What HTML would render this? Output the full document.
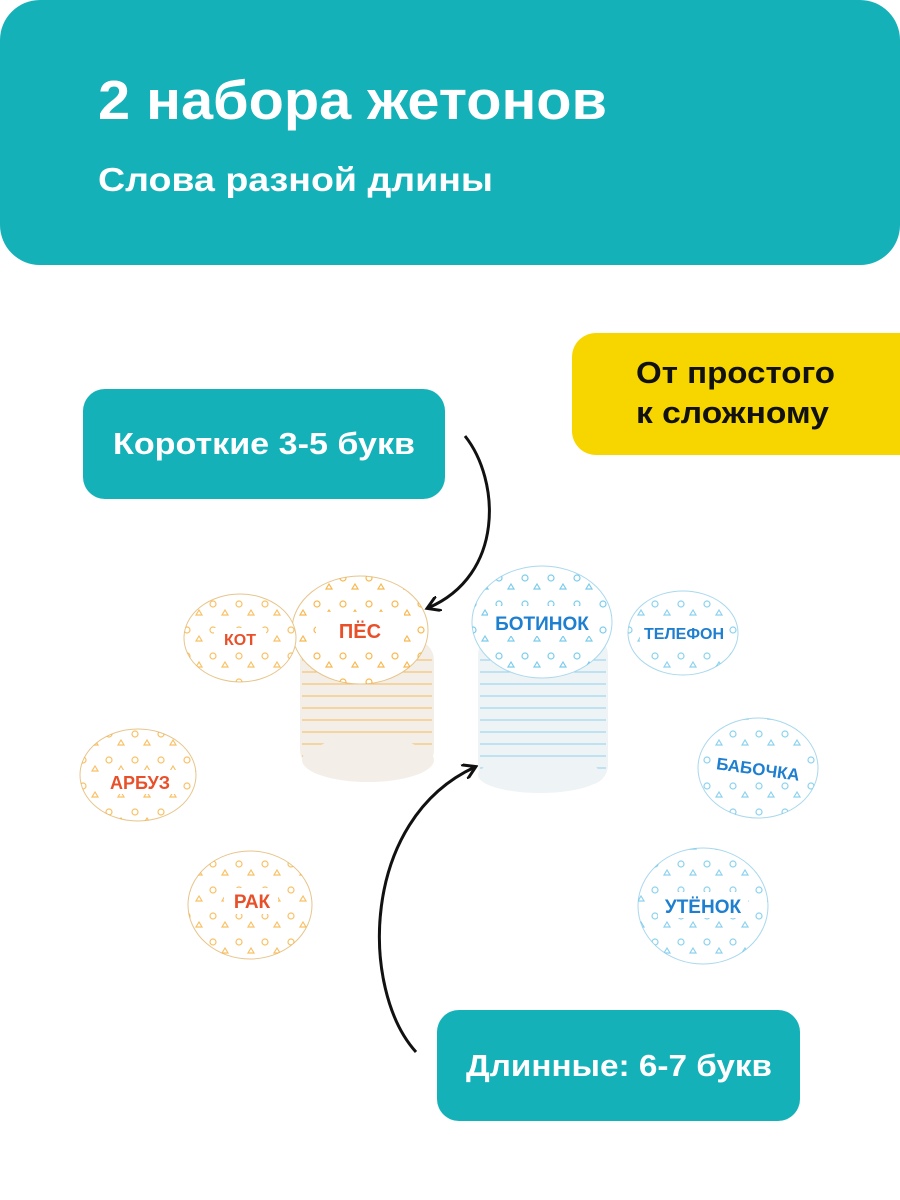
<!DOCTYPE html>
<html><head><meta charset="utf-8"><style>
body{margin:0;width:900px;height:1200px;background:#fff;overflow:hidden;font-family:"Liberation Sans",sans-serif}
svg{display:block}
</style></head><body>
<svg width="900" height="1200" viewBox="0 0 900 1200" font-family="Liberation Sans, sans-serif">
<defs>
<pattern id="po" width="26" height="26" patternUnits="userSpaceOnUse"><circle cx="5" cy="6" r="3" fill="none" stroke="#f5a623" stroke-width="1.2"/><path d="M14 17 l6 0 l-3 -5z" fill="none" stroke="#f5a623" stroke-width="1.2"/></pattern>
<pattern id="pb" width="26" height="26" patternUnits="userSpaceOnUse"><circle cx="5" cy="6" r="3" fill="none" stroke="#5bbfe6" stroke-width="1.2"/><path d="M14 17 l6 0 l-3 -5z" fill="none" stroke="#5bbfe6" stroke-width="1.2"/></pattern>
<marker id="ah" markerWidth="16" markerHeight="16" refX="12" refY="8" orient="auto" markerUnits="userSpaceOnUse"><path d="M0 0 L13 8 L0 16" fill="none" stroke="#111" stroke-width="3"/></marker>
</defs>
<rect x="0" y="0" width="900" height="265" rx="40" fill="#14b1b8"/>
<text x="98" y="119" font-size="55" font-weight="bold" fill="#fff" textLength="509" lengthAdjust="spacingAndGlyphs">2 набора жетонов</text>
<text x="98" y="191" font-size="33" font-weight="bold" fill="#fff" textLength="395" lengthAdjust="spacingAndGlyphs">Слова разной длины</text>
<rect x="572" y="333" width="360" height="122" rx="24" fill="#f7d600"/>
<text x="636" y="383" font-size="31" font-weight="bold" fill="#111" textLength="199" lengthAdjust="spacingAndGlyphs">От простого</text>
<text x="636" y="423" font-size="31" font-weight="bold" fill="#111" textLength="193" lengthAdjust="spacingAndGlyphs">к сложному</text>
<rect x="83" y="389" width="362" height="110" rx="22" fill="#14b1b8"/>
<text x="113" y="454" font-size="31" font-weight="bold" fill="#fff" textLength="302" lengthAdjust="spacingAndGlyphs">Короткие 3-5 букв</text>
<rect x="437" y="1010" width="363" height="111" rx="22" fill="#14b1b8"/>
<text x="466" y="1076" font-size="31" font-weight="bold" fill="#fff" textLength="306" lengthAdjust="spacingAndGlyphs">Длинные: 6-7 букв</text>
<path d="M465 436 C500 480 505 575 428 608" fill="none" stroke="#111" stroke-width="3" marker-end="url(#ah)"/>
<path d="M416 1052 C360 990 360 820 475 767" fill="none" stroke="#111" stroke-width="3" marker-end="url(#ah)"/>
<g>
<rect x="300" y="640" width="134" height="130" rx="20" fill="#f3efe8"/>
<g stroke="#f5b85a" stroke-width="1">
<path d="M302 660 h130 M302 672 h130 M302 684 h130 M302 696 h130 M302 708 h130 M302 720 h130 M302 732 h130 M302 744 h130 M302 756 h130"/></g>
<ellipse cx="368" cy="760" rx="66" ry="22" fill="#f3efe8"/>
<ellipse cx="360" cy="630" rx="68" ry="54" fill="#fff" stroke="#e7c58c"/>
<ellipse cx="360" cy="630" rx="68" ry="54" fill="url(#po)" opacity=".8"/>
<rect x="316" y="612" width="88" height="32" fill="#fff"/>
<text x="360" y="638" font-size="20" font-weight="bold" fill="#e8502a" text-anchor="middle">ПЁС</text>
</g>
<g>
<rect x="478" y="635" width="130" height="150" rx="20" fill="#eef3f6"/>
<g stroke="#8fd0ee" stroke-width="1">
<path d="M480 660 h126 M480 672 h126 M480 684 h126 M480 696 h126 M480 708 h126 M480 720 h126 M480 732 h126 M480 744 h126 M480 756 h126 M480 768 h126"/></g>
<ellipse cx="540" cy="775" rx="62" ry="18" fill="#eef3f6"/>
<ellipse cx="542" cy="622" rx="70" ry="56" fill="#fff" stroke="#a9d8ee"/>
<ellipse cx="542" cy="622" rx="70" ry="56" fill="url(#pb)" opacity=".8"/>
<rect x="488" y="606" width="108" height="30" fill="#fff"/>
<text x="542" y="630" font-size="19" font-weight="bold" fill="#1e7fd0" text-anchor="middle">БОТИНОК</text>
</g>
<g font-weight="bold" text-anchor="middle">
<ellipse cx="240" cy="638" rx="56" ry="44" fill="#fff" stroke="#e7c58c"/><ellipse cx="240" cy="638" rx="56" ry="44" fill="url(#po)" opacity=".7"/>
<rect x="214" y="628" width="52" height="22" fill="#fff"/><text x="240" y="645" font-size="16" fill="#e8502a">КОТ</text>
<ellipse cx="138" cy="775" rx="58" ry="46" fill="#fff" stroke="#e7c58c"/><ellipse cx="138" cy="775" rx="58" ry="46" fill="url(#po)" opacity=".7"/>
<rect x="100" y="770" width="78" height="24" fill="#fff"/><text x="140" y="789" font-size="18" fill="#e8502a">АРБУЗ</text>
<ellipse cx="250" cy="905" rx="62" ry="54" fill="#fff" stroke="#e7c58c"/><ellipse cx="250" cy="905" rx="62" ry="54" fill="url(#po)" opacity=".7"/>
<rect x="224" y="888" width="54" height="26" fill="#fff"/><text x="252" y="908" font-size="19" fill="#e8502a">РАК</text>
<ellipse cx="683" cy="633" rx="55" ry="42" fill="#fff" stroke="#a9d8ee"/><ellipse cx="683" cy="633" rx="55" ry="42" fill="url(#pb)" opacity=".7"/>
<rect x="640" y="622" width="88" height="22" fill="#fff"/><text x="684" y="639" font-size="16" fill="#1e7fd0">ТЕЛЕФОН</text>
<ellipse cx="758" cy="768" rx="60" ry="50" fill="#fff" stroke="#a9d8ee"/><ellipse cx="758" cy="768" rx="60" ry="50" fill="url(#pb)" opacity=".7"/>
<rect x="712" y="756" width="92" height="24" fill="#fff"/><text x="758" y="775" font-size="17" fill="#1e7fd0" transform="rotate(8 758 770)">БАБОЧКА</text>
<ellipse cx="703" cy="906" rx="65" ry="58" fill="#fff" stroke="#a9d8ee"/><ellipse cx="703" cy="906" rx="65" ry="58" fill="url(#pb)" opacity=".7"/>
<rect x="658" y="892" width="90" height="26" fill="#fff"/><text x="703" y="913" font-size="19" fill="#1e7fd0">УТЁНОК</text>
</g>
</svg>
</body></html>
